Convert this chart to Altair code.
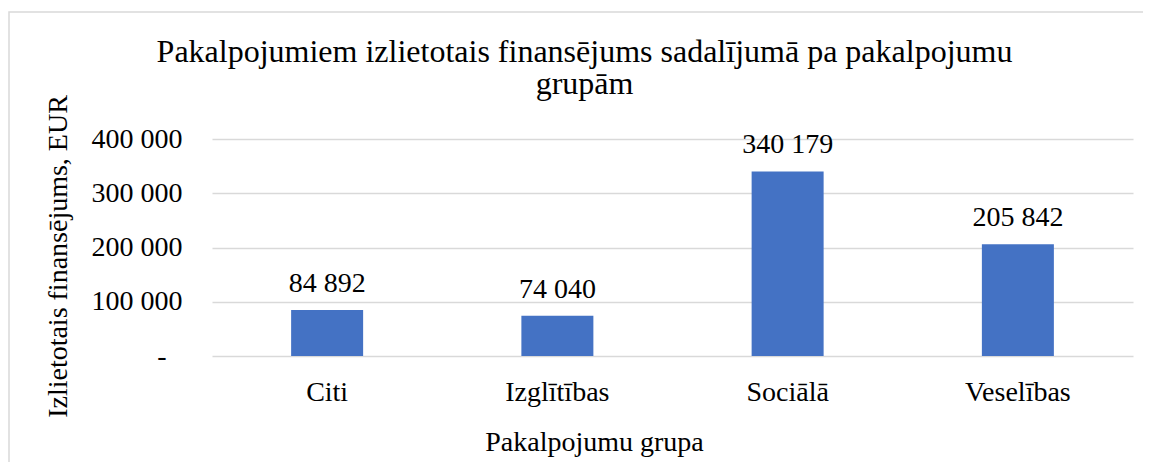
import altair as alt
import pandas as pd

categories = ["Citi", "Izglītības", "Sociālā", "Veselības"]
values = [84892, 74040, 340179, 205842]
labels = ["84 892", "74 040", "340 179", "205 842"]

df = pd.DataFrame({"grupa": categories, "vertiba": values, "label": labels})

FONT = "Times New Roman, Liberation Serif, serif"
W, H = 921, 217
FS = 28

base = alt.Chart(df)

bars = base.mark_bar(color="#4472C4", size=72).encode(
    x=alt.X("grupa:N", sort=categories,
            scale=alt.Scale(paddingInner=0.69, paddingOuter=0.345),
            axis=alt.Axis(title="Pakalpojumu grupa", labelAngle=0, domain=False, ticks=False,
                          labelPadding=22, labelFontSize=FS, titleFontSize=FS,
                          titleFontWeight="normal", titleX=382, titleY=94,
                          titleBaseline="alphabetic", labelColor="#000", titleColor="#000",
                          labelFont=FONT, titleFont=FONT)),
    y=alt.Y("vertiba:Q", scale=alt.Scale(domain=[0, 400000], nice=False),
            axis=alt.Axis(title="Izlietotais finansējums, EUR", values=[0, 100000, 200000, 300000, 400000],
                          labelExpr="datum.value == 0 ? '-' : replace(format(datum.value, ',.0f'), /,/g, ' ')",
                          labelPadding={"condition": {"test": "datum.value === 0", "value": 46}, "value": 30},
                          domain=False, ticks=False, labelFontSize=FS,
                          titleFontSize=FS, titleFontWeight="normal", titleX=-154, titleY=117,
                          titleAngle=-90, titleAlign="center", titleBaseline="middle",
                          gridColor="#d9d9d9", gridWidth=1.5, labelColor="#000", titleColor="#000",
                          labelFont=FONT, titleFont=FONT)),
)

text = base.mark_text(dy=-18, fontSize=FS, font=FONT, color="#000", baseline="alphabetic").encode(
    x=alt.X("grupa:N", sort=categories),
    y="vertiba:Q",
    text="label:N",
)

frame = alt.Chart(pd.DataFrame({"a": [0]})).mark_rect(fill=None, stroke="#d9d9d9", strokeWidth=1.5).encode(
    x=alt.value(-203), x2=alt.value(935), y=alt.value(-127), y2=alt.value(345)
)

chart = alt.layer(frame, bars, text).properties(
    width=W, height=H,
    title=alt.Title(["Pakalpojumiem izlietotais finansējums sadalījumā pa pakalpojumu", "grupām"],
                    font=FONT, fontSize=32, fontWeight="normal", lineHeight=32, dx=-88,
                    anchor="middle", frame="group", offset=-90, color="#000"),
    autosize=alt.AutoSizeParams(type="none"),
    padding={"left": 204, "top": 131, "right": 10, "bottom": 106},
).configure(font=FONT).configure_view(stroke=None)

chart.save("out.html", embed_options={"renderer": "svg", "actions": False})
